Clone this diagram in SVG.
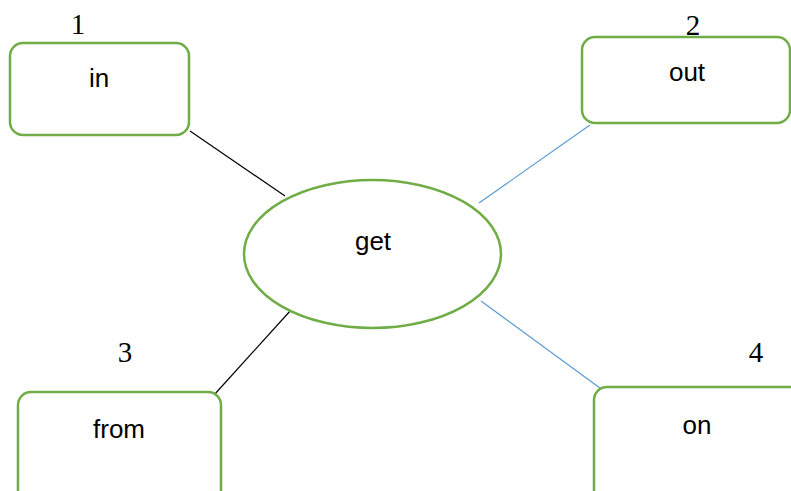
<svg xmlns="http://www.w3.org/2000/svg" width="791" height="491" viewBox="0 0 791 491">
  <style>
    .box { fill: #ffffff; stroke: #70AD47; stroke-width: 2.5; }
    .lbl { font-family: "Liberation Sans", Arial, sans-serif; font-size: 26px; fill: #000000; text-anchor: middle; }
    .num { font-family: "Liberation Serif", "Times New Roman", serif; font-size: 29px; fill: #000000; text-anchor: middle; }
    .black { stroke: #000000; stroke-width: 1.2; }
    .blue { stroke: #5B9BD5; stroke-width: 1.2; }
  </style>
  <rect width="791" height="491" fill="#ffffff"/>

  <!-- connectors -->
  <g id="connectors">
    <line class="black" x1="190" y1="131" x2="285" y2="196"/>
    <line class="blue" x1="590" y1="125" x2="479" y2="203"/>
    <line class="black" x1="291" y1="310" x2="214" y2="395"/>
    <line class="blue" x1="481" y1="301" x2="604" y2="391"/>
  </g>

  <g id="node-get">
    <ellipse class="box" cx="372.5" cy="254" rx="128.5" ry="74"/>
    <text class="lbl" x="373" y="250">get</text>
  </g>

  <g id="node-in">
    <rect class="box" x="10" y="43" width="179" height="92" rx="13"/>
    <text class="lbl" x="99" y="87">in</text>
    <text class="num" x="78" y="34">1</text>
  </g>

  <g id="node-out">
    <rect class="box" x="582" y="37" width="208" height="86" rx="13"/>
    <text class="lbl" x="687" y="81">out</text>
    <text class="num" x="693" y="35">2</text>
  </g>

  <g id="node-from">
    <rect class="box" x="18" y="392" width="203" height="112" rx="13"/>
    <text class="lbl" x="119" y="438">from</text>
    <text class="num" x="125" y="362">3</text>
  </g>

  <g id="node-on">
    <rect class="box" x="594" y="387" width="210" height="117" rx="13"/>
    <text class="lbl" x="697" y="434">on</text>
    <text class="num" x="756" y="362">4</text>
  </g>
</svg>
